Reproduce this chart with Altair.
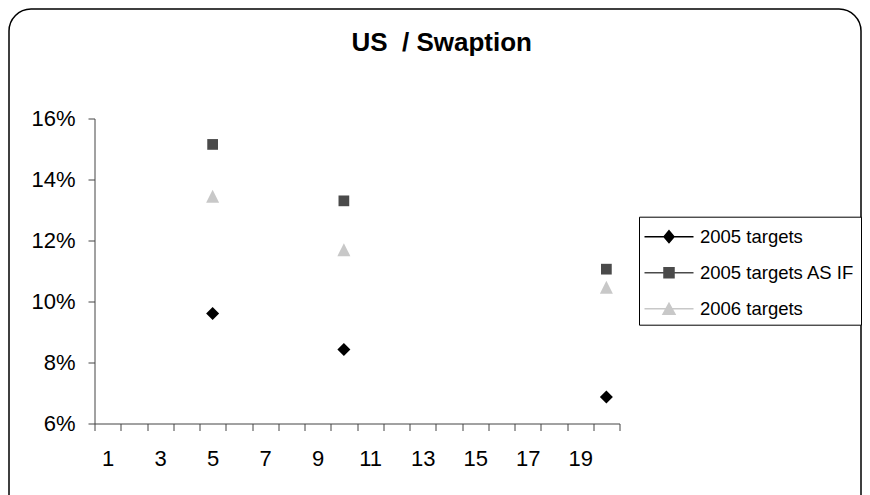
import altair as alt
import pandas as pd

# ---- data ----
series_names = ["2005 targets", "2005 targets AS IF", "2006 targets"]
x_values = [5, 10, 20]
targets_2005 = [0.0961, 0.0843, 0.0687]
targets_2005_as_if = [0.1515, 0.1330, 0.1106]
targets_2006 = [0.1345, 0.1170, 0.1047]
series_values = [targets_2005, targets_2005_as_if, targets_2006]

series_colors = ["#000000", "#4a4a4a", "#c8c8c8"]
marker_shapes = ["diamond", "square", "M0,-1L1,1L-1,1Z"]
marker_sizes = [169, 115, 169]
# legend symbols: a line with the marker on it (unit = 13 px)
legend_paths = [
    "M-1.885,0H1.885M0,-0.46L0.385,0L0,0.46L-0.385,0Z",
    "M-1.885,0H1.885M-0.385,-0.385H0.385V0.385H-0.385Z",
    "M-1.885,0H1.885M0,-0.42L0.46,0.42L-0.46,0.42Z",
]

x_band_edges = [0.5, 1.5, 2.5, 3.5, 4.5, 5.5, 6.5, 7.5, 8.5, 9.5, 10.5,
                11.5, 12.5, 13.5, 14.5, 15.5, 16.5, 17.5, 18.5, 19.5, 20.5]
x_tick_labels = ["1", "3", "5", "7", "9", "11", "13", "15", "17", "19"]
y_tick_values = [0.06, 0.08, 0.10, 0.12, 0.14, 0.16]
title_text = "US\u00a0 / Swaption"

rows = []
for name, vals in zip(series_names, series_values):
    for xv, yv in zip(x_values, vals):
        rows.append({"series": name, "x": xv, "y": yv})
df = pd.DataFrame(rows)

FONT = "Liberation Sans"
W, H = 525, 305

label_list = "[" + ",".join("'" + t + "'" for t in x_tick_labels) + "]"
x_enc = alt.X(
    "x:Q",
    scale=alt.Scale(domain=[0.5, 20.5], nice=False, zero=False),
    axis=alt.Axis(
        values=x_band_edges,
        labelExpr=f"indexof({label_list}, format(datum.value + 0.5, 'd')) >= 0 ? format(datum.value + 0.5, 'd') : ''",
        labelOffset=13.125,
        labelFlush=False,
        labelOverlap=False,
        labelBound=False,
        tickSize=7,
        labelPadding=18,
        labelFontSize=22,
        title=None,
        grid=False,
    ),
)
y_enc = alt.Y(
    "y:Q",
    scale=alt.Scale(domain=[0.06, 0.16], nice=False, zero=False),
    axis=alt.Axis(
        values=y_tick_values,
        format=".0%",
        tickSize=6.5,
        labelPadding=13,
        labelFontSize=22,
        title=None,
        grid=False,
    ),
)

base = alt.Chart(df)

point_layers = []
for name, color, shape, size in zip(series_names, series_colors, marker_shapes, marker_sizes):
    point_layers.append(
        base.transform_filter(alt.datum.series == name)
        .mark_point(filled=True, shape=shape, size=size, color=color, opacity=1)
        .encode(x=x_enc, y=y_enc)
    )

legend_def = alt.Legend(
    title=None,
    orient="none",
    legendX=544.5,
    legendY=98.2,
    symbolSize=676,
    symbolOpacity=1,
    symbolStrokeWidth=1.5,
    symbolOffset=10,
    labelFont=FONT,
    labelFontSize=18.5,
    labelColor="#000000",
    labelOffset=17,
    padding=6,
    rowPadding=12,
    strokeColor="#000000",
    fillColor="#ffffff",
)

legend_layer = base.mark_point(filled=True, opacity=0).encode(
    x=x_enc,
    y=y_enc,
    fill=alt.Fill("series:N", scale=alt.Scale(domain=series_names, range=series_colors), legend=legend_def),
    stroke=alt.Stroke("series:N", scale=alt.Scale(domain=series_names, range=series_colors), legend=legend_def),
    shape=alt.Shape("series:N", scale=alt.Scale(domain=series_names, range=legend_paths), legend=legend_def),
)

title_layer = alt.Chart(pd.DataFrame({"t": [title_text]})).mark_text(
    font=FONT, fontSize=26, fontWeight="bold", align="center", baseline="alphabetic", color="#000000"
).encode(x=alt.value(347.2), y=alt.value(-67.5), text="t:N")

border_layer = alt.Chart(pd.DataFrame({"b": [0]})).mark_rect(
    fillOpacity=0, stroke="#000000", strokeWidth=1.5, cornerRadius=22
).encode(x=alt.value(-85.5), x2=alt.value(766.5), y=alt.value(-109.5), y2=alt.value(400))

chart = alt.layer(border_layer, title_layer, *point_layers, legend_layer).properties(
    width=W,
    height=H,
    padding={"left": 86.5, "top": 110.5, "right": 242.5, "bottom": 71.5},
    autosize=alt.AutoSizeParams(type="none"),
).configure_view(stroke="transparent").configure_axis(
    labelFont=FONT, labelColor="#000000", domainColor="#444444", tickColor="#444444", domainWidth=1, tickWidth=1
)

chart.save("out.html", embed_options={"renderer": "svg", "actions": False})
